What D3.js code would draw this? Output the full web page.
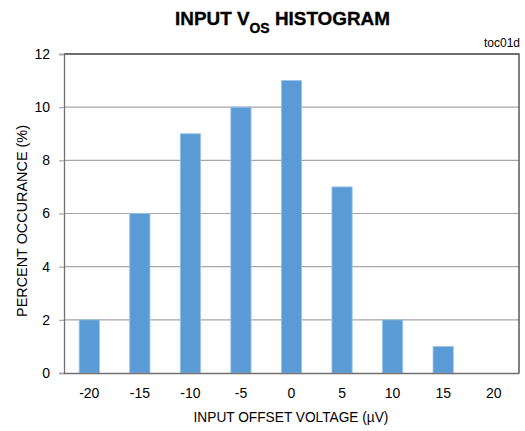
<!DOCTYPE html>
<html><head><meta charset="utf-8">
<script src="https://cdn.jsdelivr.net/npm/d3@7"></script>
<style>
body{margin:0;background:#fff;}
text{font-family:"Liberation Sans",Arial,sans-serif;fill:#000;}
</style></head>
<body><svg id="c" width="525" height="431"></svg>
<script>
const categories = ["-20","-15","-10","-5","0","5","10","15","20"];
const percents   = [2, 6, 9, 10, 11, 7, 2, 1, 0];
const yTicks     = [0, 2, 4, 6, 8, 10, 12];

const svg = d3.select("#c");
const m = {l:64, r:519, t:54, b:373};

const x = d3.scaleBand().domain(categories).range([m.l, m.r]).paddingInner(0.6).paddingOuter(0.3);
const y = d3.scaleLinear().domain([0, 12]).range([m.b, m.t]);

// gridlines
svg.append("g").selectAll("line").data(yTicks.filter(d=>d>0 && d<12)).join("line")
  .attr("x1", m.l).attr("x2", m.r).attr("y1", d=>y(d)).attr("y2", d=>y(d))
  .attr("stroke", "#a6a6a6").attr("stroke-width", 1.2);

// bars
svg.append("g").selectAll("rect").data(categories.map((c,i)=>({c, v:percents[i]})).filter(d=>d.v>0)).join("rect")
  .attr("x", d=>x(d.c)).attr("width", x.bandwidth())
  .attr("y", d=>y(d.v)).attr("height", d=>y(0)-y(d.v))
  .attr("fill", "#5b9bd5").attr("stroke", "#9cc3e8").attr("stroke-width", 0.8);

// frame top & right
svg.append("path").attr("d", `M${m.l},${m.t}H${m.r}V${m.b}`)
  .attr("fill","none").attr("stroke","#404040").attr("stroke-width",1.3);

// y axis
const yAxis = svg.append("g").attr("transform", `translate(${m.l},0)`)
  .call(d3.axisLeft(y).tickValues(yTicks).tickSize(5).tickPadding(9).tickFormat(d3.format("d")));
yAxis.select(".domain").attr("stroke","#707070").attr("stroke-width",1.3);
yAxis.selectAll(".tick line").attr("stroke","#a6a6a6").attr("stroke-width",1.2);
yAxis.selectAll("text").attr("font-size",14).attr("font-family","Liberation Sans, Arial, sans-serif").attr("fill","#000");

// x axis
const xAxis = svg.append("g").attr("transform", `translate(0,${m.b})`)
  .call(d3.axisBottom(x).tickSize(0).tickPadding(15));
xAxis.select(".domain").attr("stroke","#707070").attr("stroke-width",1.3);
xAxis.selectAll("text").attr("font-size",14).attr("font-family","Liberation Sans, Arial, sans-serif").attr("fill","#000");

function fitX(sel, cx, target){
  const w = sel.node().getBBox().width;
  sel.attr("transform", `translate(${cx},0) scale(${target/w},1)`);
}

// title
const tg = svg.append("g");
const tt = tg.append("text").attr("x",0).attr("y",25.5).attr("text-anchor","middle")
  .attr("font-size",19).attr("font-weight","bold").attr("stroke","#000").attr("stroke-width",0.35);
tt.append("tspan").text("INPUT V");
tt.append("tspan").attr("font-size",14).attr("dy",7.5).text("OS");
tt.append("tspan").attr("dy",-7.5).text(" HISTOGRAM");
fitX(tg, 282.5, 215);

// toc01d
svg.append("text").attr("x",520).attr("y",47).attr("text-anchor","end").attr("font-size",12).text("toc01d");

// x title
const xg = svg.append("g");
xg.append("text").attr("x",0).attr("y",422).attr("text-anchor","middle").attr("font-size",15)
  .text("INPUT OFFSET VOLTAGE (\u00b5V)");
fitX(xg, 291, 195);

// y title
const yg = svg.append("g").attr("transform","translate(27,221) rotate(-90)");
const yt = yg.append("text").attr("x",0).attr("y",0).attr("text-anchor","middle").attr("font-size",15)
  .text("PERCENT OCCURANCE (%)");
const yw = yt.node().getBBox().width;
yt.attr("transform", `scale(${192/yw},1)`);
</script></body></html>
